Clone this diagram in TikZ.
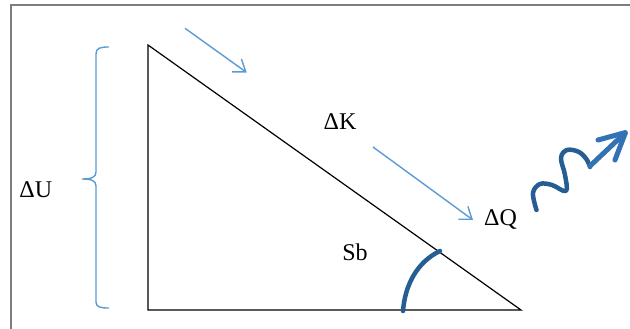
\documentclass[tikz,border=0pt]{standalone}
\usepackage{fontspec}
\setmainfont{Liberation Serif}
\usetikzlibrary{arrows.meta}
\definecolor{lblue}{RGB}{91,155,213}
\definecolor{dblue}{RGB}{38,94,148}
\definecolor{mblue}{RGB}{52,114,182}
\definecolor{framegray}{RGB}{125,125,125}
\begin{document}
\begin{tikzpicture}[x=1pt,y=-1pt,
  lbl/.style={font=\fontsize{24}{28}\selectfont, anchor=base, inner sep=0pt},
  thinarrow/.style={draw=lblue, line width=1.4pt, -{Straight Barb[length=11pt,width=16pt,line width=1.4pt]}},
  bracestyle/.style={draw=lblue, line width=1.4pt},
  boldcurve/.style={draw=dblue, line width=4.5pt, line cap=round, line join=round},
  boldhead/.style={draw=mblue, line width=5pt, line cap=round, line join=round},
  edge/.style={draw=black, line width=1.2pt},
  framestyle/.style={draw=framegray, line width=1.4pt}]
\useasboundingbox (0,0) rectangle (630,329);
% frame
\coordinate (F1) at (11,329);
\coordinate (F2) at (11,5);
\coordinate (F3) at (630,5);
\draw[framestyle] (F1) -- (F2) -- (F3);
% triangle
\coordinate (A) at (148,45);
\coordinate (B) at (148,310);
\coordinate (C) at (521,310);
\draw[edge] (A) -- (B) -- (C) -- cycle;
% brace
\coordinate (BrT) at (109,47);
\coordinate (BrM) at (82,179);
\coordinate (BrB) at (109,308);
\draw[bracestyle] (BrT) .. controls (100,47) and (96,48) .. (96,54)
  -- (96,172) .. controls (96,177) and (92,179) .. (BrM)
  .. controls (92,179) and (96,181) .. (96,186)
  -- (96,302) .. controls (96,307) and (100,308) .. (BrB);
% labels
\node[lbl] (dU) at (35.8,197.5) {ΔU};
\node[lbl] (dK) at (340,130) {ΔK};
\node[lbl] (dQ) at (500.5,225.5) {ΔQ};
\node[lbl] (Sb) at (355,260) {Sb};
% thin arrows
\coordinate (a1s) at (185,28.3);
\coordinate (a1e) at (246.7,72.5);
\draw[thinarrow] (a1s) -- (a1e);
\coordinate (a2s) at (373,147);
\coordinate (a2e) at (473,220);
\draw[thinarrow] (a2s) -- (a2e);
% angle arc
\coordinate (arcS) at (403,311);
\coordinate (arcE) at (440,251);
\draw[boldcurve] (arcS) .. controls (405,285) and (417,262) .. (arcE);
% wavy arrow
\draw[boldcurve] plot[smooth, tension=0.6] coordinates {(536.5,210) (533,193) (540,184) (552,185) (566,191) (565,175) (561,158) (567,150) (579,152) (587,160) (590,167)};
\coordinate (wS) at (590,166);
\coordinate (wT) at (625,133);
\draw[boldhead] (wS) -- (wT);
\draw[boldhead] (598,140) -- (625.5,132.5) -- (615,160);
\end{tikzpicture}
\end{document}
